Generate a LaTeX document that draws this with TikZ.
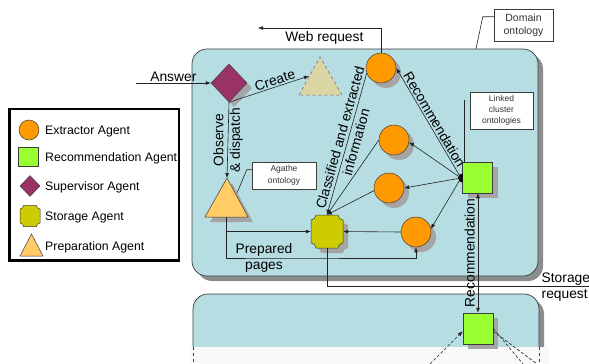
\documentclass[tikz,border=0pt]{standalone}
\usepackage{fontspec}
\setmainfont{Liberation Sans}
\usetikzlibrary{arrows.meta,shapes.geometric,shadows}
\definecolor{boxblue}{RGB}{182,221,226}
\definecolor{shadowgray}{RGB}{165,165,165}
\definecolor{boxshadow}{RGB}{140,140,140}
\definecolor{extc}{HTML}{FF9900}
\definecolor{recc}{HTML}{99FF33}
\definecolor{supc}{HTML}{993366}
\definecolor{stoc}{HTML}{CCCC00}
\definecolor{prepc}{HTML}{FFCC66}
\definecolor{creac}{RGB}{218,213,163}
\definecolor{linec}{RGB}{35,35,35}
\definecolor{outl}{RGB}{60,60,60}
\definecolor{fadec}{RGB}{249,249,249}
\newcommand\stshape[6]{%
  \path[#6] ({#1-#3+#5},{#2-#4}) -- ({#1+#3-#5},{#2-#4})
    arc[start angle=180,end angle=90,radius=#5] -- ({#1+#3},{#2+#4-#5})
    arc[start angle=270,end angle=180,radius=#5] -- ({#1-#3+#5},{#2+#4})
    arc[start angle=0,end angle=-90,radius=#5] -- ({#1-#3},{#2-#4+#5})
    arc[start angle=90,end angle=0,radius=#5] -- cycle;}
\begin{document}
\begin{tikzpicture}[x=1pt,y=-1pt,
  conn/.style={draw=linec, line width=0.6pt},
  arr/.style={conn, -{Latex[length=5pt,width=4pt]}},
  dblarr/.style={conn, {Latex[length=5pt,width=4pt]}-{Latex[length=5pt,width=4pt]}},
  lbl/.style={font=\fontsize{13.8}{16.5}\selectfont, inner sep=1.5pt, text=black},
  leg/.style={font=\fontsize{12.3}{14}\selectfont, anchor=base west, inner sep=0pt},
  note/.style={draw=outl, fill=white, line width=0.5pt, align=center, inner sep=0pt, text=black!80},
  callout/.style={draw=linec, line width=0.6pt},
  sh/.style={general shadow={fill=shadowgray, shadow xshift=5pt, shadow yshift=-5pt}},
  shp/.style={draw=outl, line width=0.5pt},
  ext/.style={shp, circle, fill=extc, inner sep=0pt},
  rec/.style={shp, rectangle, fill=recc, inner sep=0pt},
  sup/.style={shp, diamond, fill=supc, inner sep=0pt},
  anchorbox/.style={rectangle, inner sep=0pt, draw=none}
]
\useasboundingbox (0,0) rectangle (589,364);

% ---------- upper box ----------
\fill[boxshadow, rounded corners=15pt] (197,54) rectangle (543,281);
\draw[outl, fill=boxblue, line width=0.7pt, rounded corners=15pt] (192,49) rectangle (538,276);

% ---------- lower box ----------
\fill[boxshadow, rounded corners=15pt] (198,390) |- (544,299) -- (544,390) -- cycle;
\draw[outl, fill=boxblue, line width=0.7pt, rounded corners=15pt] (193,390) |- (539,294) -- (539,390);
\fill[fadec] (190,347) rectangle (549,370);
\draw[outl, dashed, line width=0.5pt] (193,347) -- (193,364);
\draw[outl, dashed, line width=0.5pt] (539,347) -- (539,364);

% ---------- notes ----------
\node[note, minimum width=59pt, minimum height=32pt, font=\fontsize{10.5}{13.4}\selectfont] (dom) at (523.5,25) {Domain\\ontology};
\coordinate (domtip) at (476,49);
\draw[callout] ([yshift=-8pt]dom.north west) -- ++(-11,0) -- (domtip);

\node[note, minimum width=64pt, minimum height=27pt, font=\fontsize{8.5}{11.5}\selectfont] (ag) at (284,175.5) {Agathe\\ontology};
\coordinate (agtip) at (237,193);
\draw[callout] ([yshift=-8pt]ag.north west) -- ++(-5,0) -- (agtip);

\node[note, minimum width=63pt, minimum height=37pt, font=\fontsize{8.5}{11.3}\selectfont] (lk) at (501.5,110.5) {Linked\\cluster\\ontologies};

% ---------- agents ----------
\node[sup, sh, minimum width=36pt, minimum height=38pt] (sup) at (229,83) {};
\path[fill=creac, draw=outl!80, line width=0.5pt, dashed] (299,95) -- (320,57) -- (342,95) -- cycle;
\coordinate (crein) at (309,76);

\path[shp, fill=prepc, sh] (205,217) -- (227,178) -- (248,217) -- cycle;
\coordinate (preptop) at (227,178);
\coordinate (prepbot) at (226,217);

\node[ext, sh, minimum size=30pt] (e1) at (381,68) {};
\node[ext, sh, minimum size=30pt] (e2) at (394,140) {};
\node[ext, sh, minimum size=30pt] (e3) at (389,188) {};
\node[ext, sh, minimum size=30pt] (e4) at (416,232) {};

\stshape{327}{231.5}{16}{16.5}{5}{shp, fill=stoc, sh}
\node[anchorbox, minimum width=32pt, minimum height=33pt] (st) at (327,231.5) {};

\node[rec, sh, minimum width=30pt, minimum height=31pt] (rec1) at (477.5,177.5) {};
\node[rec, sh, minimum width=30pt, minimum height=31pt] (rec2) at (478,328.5) {};
\fill[black] (462.5,173.5) arc[start angle=-90, end angle=-270, radius=4.5] -- cycle;
\coordinate (hub) at (461,178);

\coordinate (lktop) at (464,100);
\draw[callout] (lktop) -- (lktop |- rec1.north);

% ---------- connectors ----------
\coordinate (ans) at (136,83);
\draw[arr] (ans) -- (sup.west) node[midway, above, lbl] {Answer};
\draw[arr] (sup.south) -- (crein) node[pos=0.6, sloped, above, lbl] {Create};
\draw[arr] (sup.south) -- (preptop) node[midway, rotate=90, lbl, align=center] {Observe\\\& dispatch};

\coordinate (wr) at (258,28);
\draw[arr] (e1.north) |- (wr) node[pos=0.73, below, lbl, inner sep=3pt] {Web request};

\draw[arr] (hub) -- (e1.east) node[midway, sloped, above, lbl] {Recommendation};
\draw[arr] (hub) -- (e2.-8);
\draw[arr] (hub) -- (e3.east);
\draw[arr] (hub) -- (e4.12);

\draw[arr] (e1.200) -- (st.north) node[pos=0.47, sloped, lbl, align=center] {Classified and extracted\\information};
\draw[arr] (e2.west) -- (st.north);
\draw[arr] (e3.190) -- (st.north);
\draw[arr] (e4.west) -- (st.east);

\draw[arr] (prepbot) |- (st.west);
\draw[arr] (prepbot) |- (264,258) node[lbl, align=center] {Prepared\\pages} -| (e4.south);

\coordinate (sreq) at (589,286);
\draw[conn] (st.south) |- (sreq);
\node[lbl, anchor=west, align=left, inner sep=0pt] (sreqlbl) at (541.5,287) {Storage\\request};

\draw[dblarr] (rec1.south -| rec2.north) -- (rec2.north) node[midway, rotate=90, anchor=south, lbl, inner sep=3pt] {Recommendation};

\coordinate (in1) at (430,364);
\coordinate (out1) at (523,364);
\coordinate (out2) at (537,364);
\draw[arr, densely dashed] (in1) -- (rec2.-170);
\draw[conn, densely dashed] (rec2.east) -- (out1);
\draw[conn, densely dashed] (rec2.-10) -- (out2);

% ---------- legend ----------
\draw[black, line width=2.2pt, fill=white] (9.5,109) rectangle (179,260.5);
\node[ext, minimum size=20pt] (lgext) at (29,130) {};
\node[leg] (ltext) at (45,134.3) {Extractor Agent};
\node[rec, minimum width=20pt, minimum height=19pt] (lgrec) at (28.5,156.5) {};
\node[leg] (ltrec) at (45,161.6) {Recommendation Agent};
\node[sup, minimum width=20pt, minimum height=21pt] (lgsup) at (30,186) {};
\node[leg] (ltsup) at (45,190.7) {Supervisor Agent};
\stshape{30}{216}{10}{10.5}{3.5}{shp, fill=stoc}
\node[anchorbox, minimum size=20pt] (lgsto) at (30,216) {};
\node[leg] (ltsto) at (45,220.7) {Storage Agent};
\path[shp, fill=prepc] (20,256) -- (31.5,234) -- (43,256) -- cycle;
\node[anchorbox, minimum width=23pt, minimum height=22pt] (lgprep) at (31.5,245) {};
\node[leg] (ltprep) at (45,250.7) {Preparation Agent};
\end{tikzpicture}
\end{document}
